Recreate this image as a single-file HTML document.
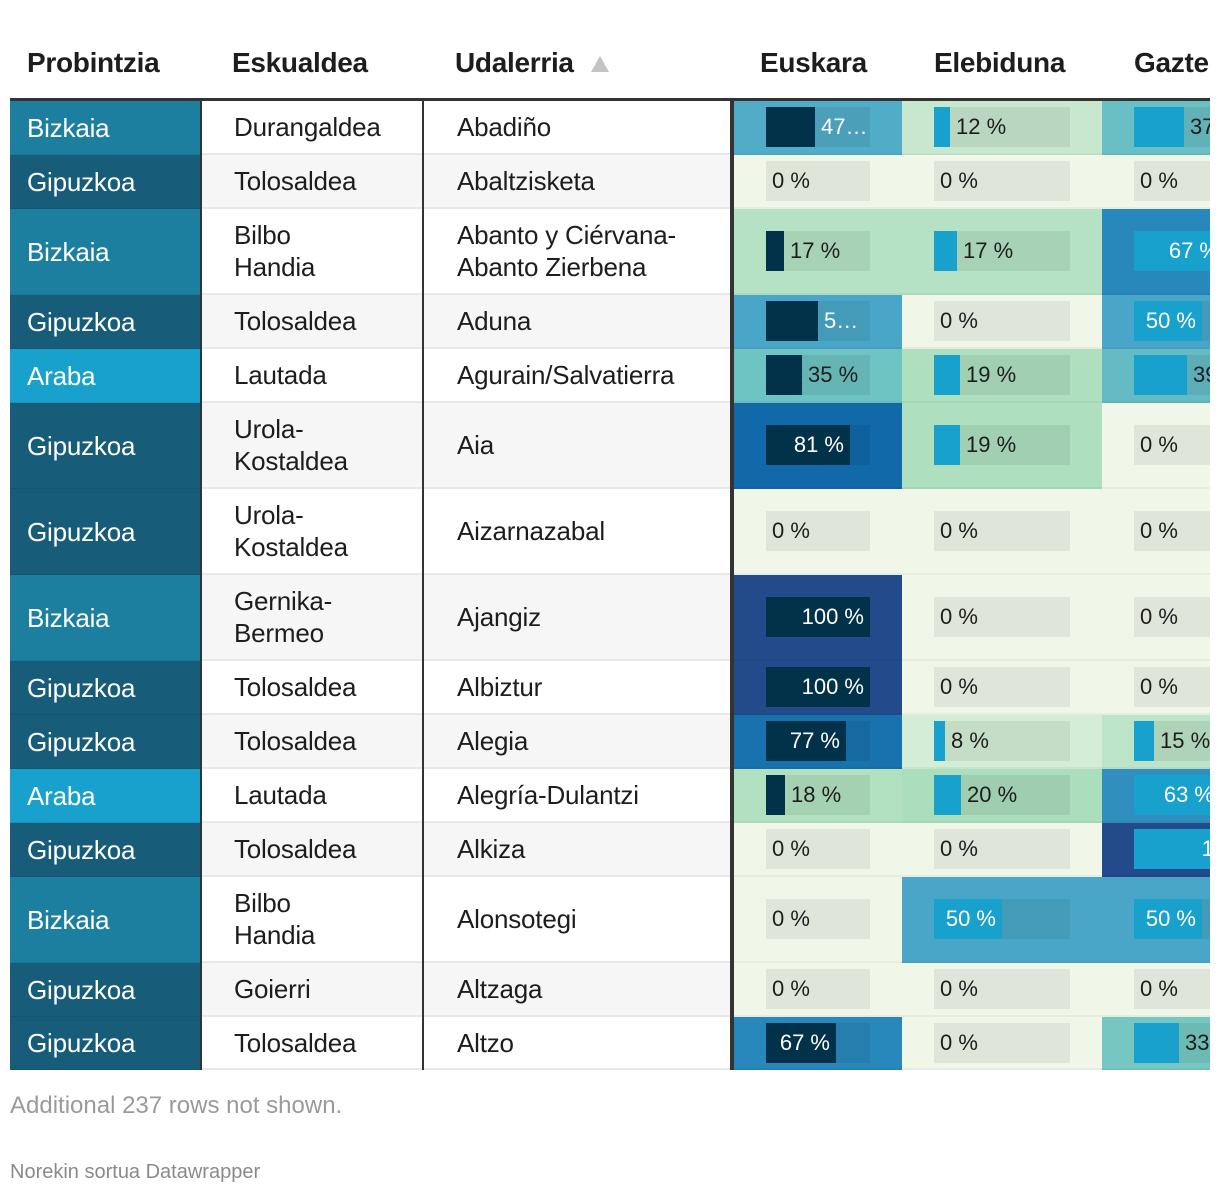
<!DOCTYPE html>
<html><head><meta charset="utf-8">
<style>
body{margin:0;background:#fff;width:1220px;height:1196px;overflow:hidden;font-family:"Liberation Sans",sans-serif;position:relative}
#root{position:absolute;left:0;top:0;width:1210px;height:1080px;overflow:hidden}
.a{position:absolute;box-sizing:border-box}
.h{font-weight:bold;font-size:28px;color:#1d1d1d;top:47px;letter-spacing:-0.3px;white-space:nowrap}
.t{font-size:26px;line-height:32px;display:flex;align-items:center;letter-spacing:-0.2px}
.lab{position:absolute;top:0;height:40px;line-height:40px;font-size:22px;white-space:nowrap;overflow:hidden;text-overflow:ellipsis}
</style></head><body>
<div id="root"></div>
<div class="a" style="left:10px;top:1092px;font-size:24px;color:#9a9a9a">Additional 237 rows not shown.</div>
<div class="a" style="left:10px;top:1161px;font-size:20px;color:#8a8a8a">Norekin sortua Datawrapper</div>
<script>
const provinces=["Bizkaia","Gipuzkoa","Bizkaia","Gipuzkoa","Araba","Gipuzkoa","Gipuzkoa","Bizkaia","Gipuzkoa","Gipuzkoa","Araba","Gipuzkoa","Bizkaia","Gipuzkoa","Gipuzkoa"];
const regions=["Durangaldea","Tolosaldea","Bilbo<br>Handia","Tolosaldea","Lautada","Urola-<br>Kostaldea","Urola-<br>Kostaldea","Gernika-<br>Bermeo","Tolosaldea","Tolosaldea","Lautada","Tolosaldea","Bilbo<br>Handia","Goierri","Tolosaldea"];
const towns=["Abadiño","Abaltzisketa","Abanto y Ciérvana-<br>Abanto Zierbena","Aduna","Agurain/Salvatierra","Aia","Aizarnazabal","Ajangiz","Albiztur","Alegia","Alegría-Dulantzi","Alkiza","Alonsotegi","Altzaga","Altzo"];
const euskara=[47,0,17,50,35,81,0,100,100,77,18,0,0,0,67];
const elebiduna=[12,0,17,0,19,19,0,0,0,8,20,0,50,0,0];
const gazte=[37,0,67,50,39,0,0,0,0,15,63,100,50,0,33];
const heights=[54,54,86,54,54,86,86,86,54,54,54,54,86,54,53];
const provColor={Bizkaia:"#1d7fa0",Gipuzkoa:"#175c78",Araba:"#19a1cd"};
const stops=[[0,[240,247,233]],[20,[171,222,189]],[35,[110,195,195]],[50,[74,166,200]],[67,[40,136,187]],[81,[17,105,169]],[100,[35,74,138]]];
function heat(v){for(let i=1;i<stops.length;i++){if(v<=stops[i][0]){const[a,ca]=stops[i-1],[b,cb]=stops[i];const t=(v-a)/(b-a);return 'rgb('+ca.map((c,k)=>Math.round(c+(cb[k]-c)*t)).join(',')+')';}}return 'rgb(35,74,138)';}
const root=document.getElementById('root');
function mk(cls,style,html){const d=document.createElement('div');d.className=cls;d.style.cssText=style;if(html!==undefined)d.innerHTML=html;root.appendChild(d);return d;}
const heads=[["Probintzia",27],["Eskualdea",232],["Udalerria",455],["Euskara",760],["Elebiduna",934],["Gazte",1134]];
heads.forEach(h=>{const e=mk('a h','left:'+h[1]+'px',h[0]);

});
const arrow=mk('a','left:591px;top:56px;width:0;height:0;border-left:9px solid transparent;border-right:9px solid transparent;border-bottom:16px solid #c4c4c4');


const hl=mk('a','left:10px;top:98px;width:1200px;height:3px;background:#333');


const valCols=[[euskara,734,168,766,104,"#02324a","euskara"],[elebiduna,902,200,934,136,"#19a1cd","elebiduna"],[gazte,1102,200,1134,136,"#19a1cd","gazte"]];
let y=101;
for(let i=0;i<provinces.length;i++){
 const h=heights[i];
 const zebra=i%2?'#f6f6f6':'#fff';
 const p=mk('a t','left:10px;top:'+y+'px;width:190px;height:'+h+'px;padding-left:17px;color:#fff;background:'+provColor[provinces[i]]+';border-bottom:1px solid rgba(0,0,0,0.08)',provinces[i]);
 
 
 const r=mk('a t','left:202px;top:'+y+'px;width:220px;height:'+h+'px;padding-left:32px;color:#1d1d1d;background:'+zebra+';border-bottom:2px solid #e8e8e8',regions[i]);
 
 
 const tw=mk('a t','left:424px;top:'+y+'px;width:306px;height:'+h+'px;padding-left:33px;color:#1d1d1d;background:'+zebra+';border-bottom:2px solid #e8e8e8',towns[i]);
 
 
 valCols.forEach(c=>{
  const v=c[0][i];
  const cell=mk('a','left:'+c[1]+'px;top:'+y+'px;width:'+c[2]+'px;height:'+h+'px;background:'+heat(v)+';border-bottom:2px solid rgba(0,0,0,0.04)');
  
  
  const tr=document.createElement('div');
  tr.style.cssText='position:absolute;left:'+(c[3]-c[1])+'px;top:'+((h-2)/2-20)+'px;width:'+c[4]+'px;height:40px;background:rgba(0,0,0,0.07);overflow:hidden';
  
  
  cell.appendChild(tr);
  const bw=Math.round(c[4]*v/100);
  const bar=document.createElement('div');
  bar.style.cssText='position:absolute;left:0;top:0;height:40px;width:'+bw+'px;background:'+c[5];
  
  
  tr.appendChild(bar);
  const lab=document.createElement('div');
  lab.className='lab';
  lab.textContent=v+' %';
  const col=v>=40?'#fff':'#1d1d1d';
  if(bw>=60){lab.style.cssText+='right:'+(c[4]-bw+6)+'px;color:'+col;}
  else{const l=bw+6;lab.style.cssText+='left:'+l+'px;max-width:'+(c[4]-l)+'px;color:'+col;}
  
  
  tr.appendChild(lab);
 });
 y+=h;
}
[[200,2],[422,2],[730,4]].forEach(s=>{const e=mk('a','left:'+s[0]+'px;top:101px;width:'+s[1]+'px;height:'+(y-101)+'px;background:#333');

});
</script>
</body></html>
